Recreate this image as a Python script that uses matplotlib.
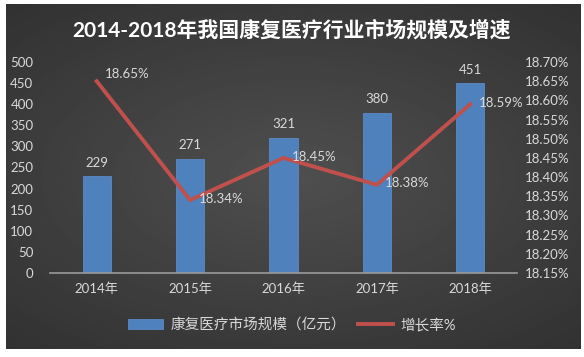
import numpy as np
import matplotlib
matplotlib.use('Agg')
import matplotlib.pyplot as plt

plt.rcParams['font.family'] = ['Lato', 'Noto Sans CJK SC', 'DejaVu Sans']

years = ['2014年', '2015年', '2016年', '2017年', '2018年']
market_size = [229, 271, 321, 380, 451]
growth_rate = [18.65, 18.34, 18.45, 18.38, 18.59]

text_color = '#d9d9d9'
bar_color = '#4f81bd'
line_color = '#c0504d'

fig = plt.figure(figsize=(5.84, 3.57), dpi=100)
fig.patch.set_facecolor('white')

# dark background panel with a soft radial glow
bg = fig.add_axes([6 / 584, 1 - 349 / 357, 575 / 584, 345 / 357])
yy, xx = np.mgrid[-1:1:200j, -1:1:300j]
rr = np.sqrt((xx * 0.9) ** 2 + yy ** 2)
bg.imshow(0.31 - 0.12 * np.clip(rr, 0, 1.4) / 1.4, cmap='gray', vmin=0, vmax=1,
          aspect='auto', extent=[0, 1, 0, 1])
bg.set_axis_off()

ax = fig.add_axes([50 / 584, 1 - 273 / 357, 467 / 584, 211 / 357])
ax.patch.set_alpha(0)
x = np.arange(len(years))

bars = ax.bar(x, market_size, width=0.3, color=bar_color, zorder=2,
              edgecolor='#5b8ac6', linewidth=0.6, label='康复医疗市场规模（亿元）')
for xi, v in zip(x, market_size):
    ax.text(xi, v + 17, str(v), ha='center', va='bottom', color=text_color,
            fontsize=9.5)

ax.set_xlim(-0.5, len(years) - 0.5)
ax.set_ylim(0, 500)
ax.set_yticks(range(0, 501, 50))
ax.set_xticks(x)
ax.set_xticklabels(years)
for s in ['top', 'right', 'left']:
    ax.spines[s].set_visible(False)
ax.spines['bottom'].set_color('#9a9a9a')
ax.spines['bottom'].set_linewidth(1.2)
ax.tick_params(axis='both', length=0, colors=text_color, labelsize=9.5)
ax.tick_params(axis='y', pad=12)
ax.tick_params(axis='x', pad=7)

ax2 = ax.twinx()
ax2.set_ylim(18.15, 18.70)
ax2.set_yticks(np.arange(18.15, 18.701, 0.05))
ax2.set_yticklabels(['%.2f%%' % t for t in np.arange(18.15, 18.701, 0.05)])
for s in ax2.spines.values():
    s.set_visible(False)
ax2.tick_params(axis='y', length=0, colors=text_color, labelsize=9.5, pad=6)
line, = ax2.plot(x, growth_rate, color=line_color, linewidth=2.8, zorder=3,
                 solid_joinstyle='miter', label='增长率%')
for xi, v in zip(x, growth_rate):
    ax2.annotate('%.2f%%' % v, (xi, v), xytext=(6, 1), textcoords='offset points',
                 ha='left', va='bottom' if xi == 0 else 'center',
                 color=text_color, fontsize=9.5)

fig.text(0.5, 1 - 30 / 357, '2014-2018年我国康复医疗行业市场规模及增速', ha='center',
         va='center', color='white', fontsize=15, fontweight='bold')

fig.legend([bars, line], ['康复医疗市场规模（亿元）', '增长率%'], loc='center',
           bbox_to_anchor=(0.5, 1 - 325 / 357), ncol=2, frameon=False,
           labelcolor=text_color, fontsize=10.5, handlelength=2.4,
           columnspacing=0.8, handletextpad=0.5)

fig.savefig('out.png', dpi=100)
